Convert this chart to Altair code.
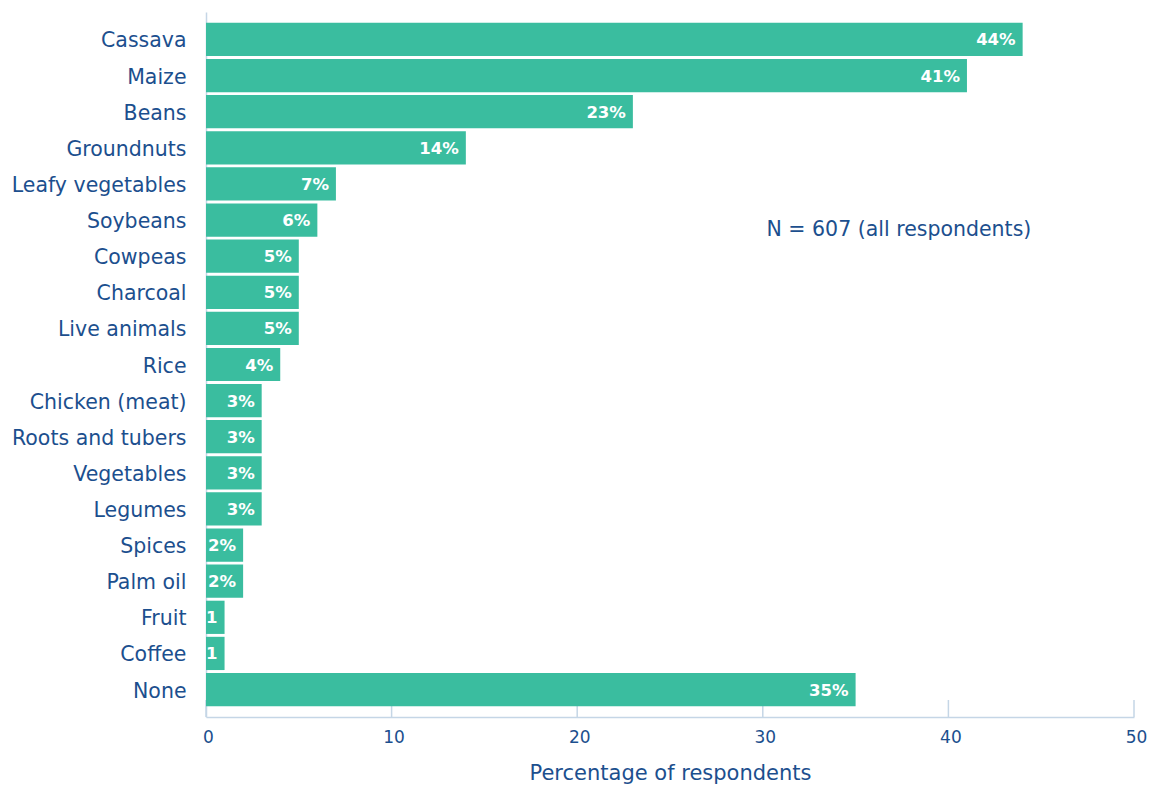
import altair as alt
import pandas as pd

categories = ["Cassava", "Maize", "Beans", "Groundnuts", "Leafy vegetables", "Soybeans",
              "Cowpeas", "Charcoal", "Live animals", "Rice", "Chicken (meat)",
              "Roots and tubers", "Vegetables", "Legumes", "Spices", "Palm oil",
              "Fruit", "Coffee", "None"]
values = [44, 41, 23, 14, 7, 6, 5, 5, 5, 4, 3, 3, 3, 3, 2, 2, 1, 1, 35]
bar_labels = ["44%", "41%", "23%", "14%", "7%", "6%", "5%", "5%", "5%", "4%", "3%",
              "3%", "3%", "3%", "2%", "2%", "1", "1", "35%"]
x_ticks = [0, 10, 20, 30, 40, 50]
note_text = "N = 607 (all respondents)"
note_x = 30.2
note_cat = "Soybeans"

FONT = "DejaVu Sans"
TEXT = "#1c4f8e"
BAR = "#3abd9f"
AXIS = "#c5d6e6"

df = pd.DataFrame({"cat": categories, "val": values, "lab": bar_labels})
ticks_df = pd.DataFrame({"t": x_ticks})
note_df = pd.DataFrame({"x": [note_x], "cat": [note_cat], "txt": [note_text]})

H = 705
xscale = alt.Scale(domain=[0, 50], nice=False)
yscale = alt.Scale(domain=categories, paddingInner=0.08, paddingOuter=0.3)

tick_rules = alt.Chart(ticks_df).mark_rule(color=AXIS, strokeWidth=1.5).encode(
    x=alt.X("t:Q", scale=xscale),
    y=alt.value(H - 17),
    y2=alt.value(H),
)

bars = alt.Chart(df).mark_bar(color=BAR).encode(
    x=alt.X("val:Q", scale=xscale,
            axis=alt.Axis(values=x_ticks, title="Percentage of respondents",
                          ticks=False, grid=False, labelPadding=12, labelFlush=False,
                          labelOffset=2,
                          titlePadding=17, domainColor=AXIS, domainWidth=1.5)),
    y=alt.Y("cat:N", scale=yscale, sort=categories,
            axis=alt.Axis(title=None, ticks=False, labelPadding=20, labelOffset=2,
                          domainColor=AXIS, domainWidth=1.5, labelLimit=300)),
)

texts = alt.Chart(df).mark_text(align="right", baseline="middle", dx=-7, dy=1,
                                color="white", font=FONT, fontWeight="bold",
                                fontSize=16.5).encode(
    x=alt.X("val:Q", scale=xscale),
    y=alt.Y("cat:N", scale=yscale, sort=categories),
    text="lab:N",
)

note = alt.Chart(note_df).mark_text(align="left", baseline="middle", dy=10,
                                    color=TEXT, font=FONT, fontSize=20.5).encode(
    x=alt.X("x:Q", scale=xscale),
    y=alt.Y("cat:N", scale=yscale, sort=categories),
    text="txt:N",
)

chart = alt.layer(tick_rules, bars, texts, note).properties(
    width=928, height=H,
    autosize=alt.AutoSizeParams(type="none"),
    padding={"left": 206, "top": 12, "right": 21, "bottom": 70},
).configure_view(stroke=None).configure_axis(
    labelFont=FONT, titleFont=FONT, labelColor=TEXT, titleColor=TEXT,
    labelFontSize=20.5, titleFontSize=21, titleFontWeight="normal",
).configure_axisX(labelFontSize=17)

chart.save("out.html", embed_options={"renderer": "svg", "actions": False})
